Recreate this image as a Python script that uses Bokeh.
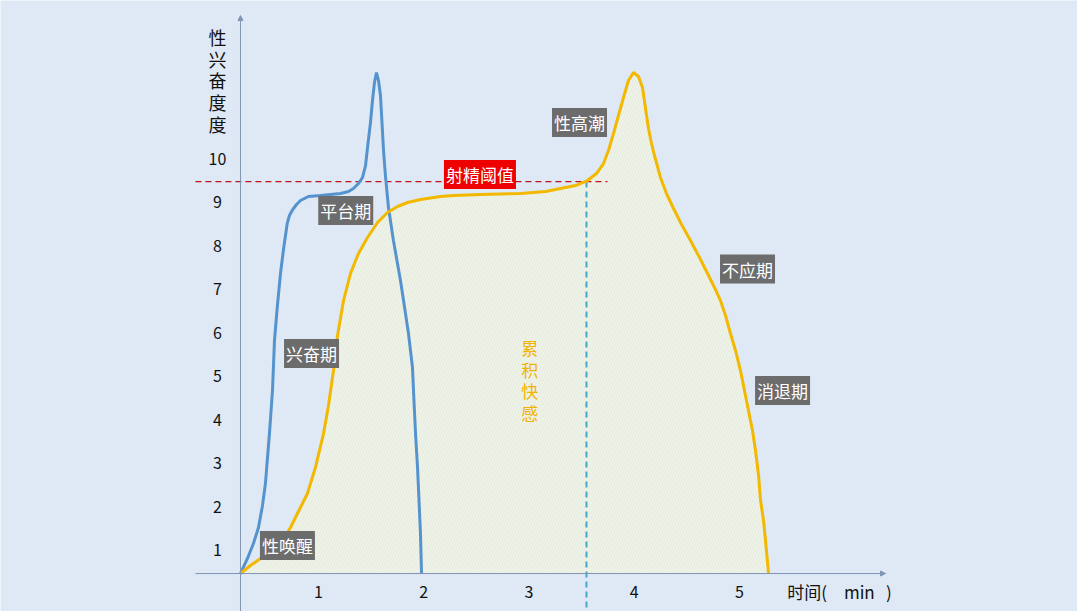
from bokeh.plotting import figure
from bokeh.models import Label, Arrow, NormalHead, Range1d
from bokeh.embed import file_html
from bokeh.resources import INLINE

# ---------------- data ----------------
X_TICKS = [1, 2, 3, 4, 5]
Y_TICKS = [1, 2, 3, 4, 5, 6, 7, 8, 9, 10]
X_TITLE = "时间(\u3000min\u00a0\u00a0\u00a0)"
Y_TITLE = "性兴奋度度"

# blue curve (quick response)
blue_t = [0.259, 0.325, 0.382, 0.430, 0.468, 0.496, 0.515, 0.534, 0.553, 0.563,
          0.582, 0.608, 0.639, 0.670, 0.703, 0.724, 0.750, 0.791, 0.829, 0.905,
          1.019, 1.114, 1.209, 1.285, 1.332, 1.380, 1.418, 1.447, 1.466, 1.494,
          1.513, 1.532, 1.551, 1.570, 1.589, 1.618, 1.636, 1.665, 1.712, 1.779,
          1.808, 1.855, 1.893, 1.907, 1.922, 1.941, 1.955, 1.969, 1.979]
blue_v = [0.460, 0.806, 1.151, 1.519, 2.025, 2.532, 3.107, 3.682, 4.327, 4.672,
          5.823, 6.582, 7.365, 7.963, 8.516, 8.700, 8.815, 8.953, 9.045, 9.137,
          9.160, 9.183, 9.206, 9.252, 9.321, 9.436, 9.574, 9.850, 10.265, 10.840,
          11.346, 11.761, 11.991, 11.807, 11.461, 10.196, 9.620, 8.884, 8.124, 7.204,
          6.743, 5.984, 5.201, 4.442, 3.682, 2.900, 2.140, 1.381, 0.460]

# yellow curve (accumulated pleasure)
yellow_t = [0.259, 0.354, 0.449, 0.544, 0.639, 0.734, 0.800, 0.895, 0.971, 1.048,
            1.095, 1.143, 1.181, 1.238, 1.304, 1.380, 1.466, 1.561, 1.656, 1.751,
            1.846, 1.969, 2.159, 2.283, 2.539, 2.919, 3.157, 3.299, 3.442, 3.556,
            3.641, 3.708, 3.755, 3.803, 3.850, 3.898, 3.945, 3.993, 4.040, 4.078,
            4.107, 4.135, 4.164, 4.192, 4.221, 4.249, 4.306, 4.373, 4.449, 4.534,
            4.620, 4.696, 4.762, 4.819, 4.867, 4.914, 4.962, 5.009, 5.047, 5.085,
            5.123, 5.152, 5.181, 5.200, 5.228, 5.247, 5.276]
yellow_v = [0.460, 0.644, 0.806, 0.944, 1.151, 1.519, 1.841, 2.301, 2.900, 3.682,
            4.327, 5.132, 5.938, 6.743, 7.365, 7.825, 8.193, 8.539, 8.769, 8.907,
            8.999, 9.068, 9.137, 9.160, 9.183, 9.206, 9.252, 9.321, 9.390, 9.505,
            9.666, 9.896, 10.196, 10.587, 11.001, 11.415, 11.807, 11.991, 11.899, 11.646,
            11.162, 10.702, 10.357, 10.081, 9.827, 9.574, 9.206, 8.861, 8.493, 8.124,
            7.733, 7.365, 7.043, 6.743, 6.398, 5.984, 5.593, 5.132, 4.672, 4.212,
            3.751, 3.291, 2.716, 2.140, 1.680, 1.220, 0.460]

THRESHOLD = 9.48          # 射精阈值
THRESHOLD_T = 3.546       # time where yellow crosses threshold

# stage labels: (text, t, v)
STAGES = [("平台期", 1.259, 8.815), ("兴奋期", 0.934, 5.524), ("性唤醒", 0.705, 1.105),
          ("性高潮", 3.480, 10.840), ("不应期", 5.076, 7.468), ("消退期", 5.409, 4.672)]
THRESH_LABEL = ("射精阈值", 2.534, 9.643)
AREA_LABEL = ("累积快感", 3.006, 4.914)

# ---------------- layout / style ----------------
BG = "#dee9f5"
FONT = "Noto Sans CJK SC"
AX_COL = "#8096b4"
ORIGIN_T, ORIGIN_V = 0.259, 0.460     # where the two axes cross

X0, X1 = -2.021, 8.211
Y0, Y1 = -0.414, 13.648

p = figure(width=1077, height=611, output_backend="svg", toolbar_location=None,
           x_range=Range1d(X0, X1), y_range=Range1d(Y0, Y1),
           min_border=0, x_axis_type=None, y_axis_type=None)
p.background_fill_color = BG
p.border_fill_color = BG
p.outline_line_color = None
p.grid.visible = False

# filled area under yellow curve
p.varea(x=yellow_t, y1=[ORIGIN_V] * len(yellow_t), y2=yellow_v,
        fill_color="#e8ede2", fill_alpha=1.0,
        hatch_pattern="/", hatch_color="#f8f8ee", hatch_alpha=0.8,
        hatch_scale=6, hatch_weight=1)

# axes with arrow heads
p.add_layout(Arrow(x_start=ORIGIN_T, y_start=Y0, x_end=ORIGIN_T, y_end=13.30,
                   line_color=AX_COL, line_width=1,
                   end=NormalHead(size=5, fill_color=AX_COL, line_color=AX_COL)))
p.add_layout(Arrow(x_start=-0.169, y_start=ORIGIN_V, x_end=6.387, y_end=ORIGIN_V,
                   line_color=AX_COL, line_width=1,
                   end=NormalHead(size=5, fill_color=AX_COL, line_color=AX_COL)))

# tick labels
p.text(x=[0.040] * len(Y_TICKS), y=Y_TICKS, text=[str(v) for v in Y_TICKS],
       text_align="center", text_baseline="middle", text_font={"value": FONT},
       text_font_size="16px", text_color="#111111")
p.text(x=X_TICKS, y=[0.046] * len(X_TICKS), text=[str(v) for v in X_TICKS],
       text_align="center", text_baseline="middle", text_font={"value": FONT},
       text_font_size="16px", text_color="#111111")

# threshold lines
p.segment(x0=[-0.169], y0=[THRESHOLD], x1=[3.746], y1=[THRESHOLD],
          line_color="#c0121c", line_width=1.3, line_dash="6 4")
p.segment(x0=[THRESHOLD_T], y0=[THRESHOLD], x1=[THRESHOLD_T], y1=[Y0],
          line_color="#45a8c8", line_width=2, line_dash="6 4")

# curves
p.line(blue_t, blue_v, line_color="#5593cf", line_width=3)
p.line(yellow_t, yellow_v, line_color="#f3b800", line_width=3)

# stage labels
for txt, tx, ty in STAGES:
    p.add_layout(Label(x=tx, y=ty, text=txt, text_align="center", text_baseline="middle",
                       text_font=FONT, text_font_size="17px", text_color="white",
                       background_fill_color="#6c6c6c", padding=2))
txt, tx, ty = THRESH_LABEL
p.add_layout(Label(x=tx, y=ty, text=txt, text_align="center", text_baseline="middle",
                   text_font=FONT, text_font_size="17px", text_color="white",
                   background_fill_color="#ee0000", padding=2))
txt, tx, ty = AREA_LABEL
p.add_layout(Label(x=tx, y=ty, text="\n".join(txt), text_align="center",
                   text_baseline="middle", text_font=FONT, text_font_size="17px",
                   text_color="#f0b400", text_line_height=0.86))

# axis titles
p.add_layout(Label(x=0.040, y=11.81, text="\n".join(Y_TITLE), text_align="center",
                   text_baseline="middle", text_font=FONT, text_font_size="18px",
                   text_color="#111111", text_line_height=0.83))
p.add_layout(Label(x=5.95, y=0.046, text=X_TITLE, text_align="center",
                   text_baseline="middle", text_font=FONT, text_font_size="17px",
                   text_color="#111111"))

html = file_html(p, INLINE)
html = html.replace("<body>", '<body style="background-color:%s;">' % BG, 1)
open("out.html", "w").write(html)
